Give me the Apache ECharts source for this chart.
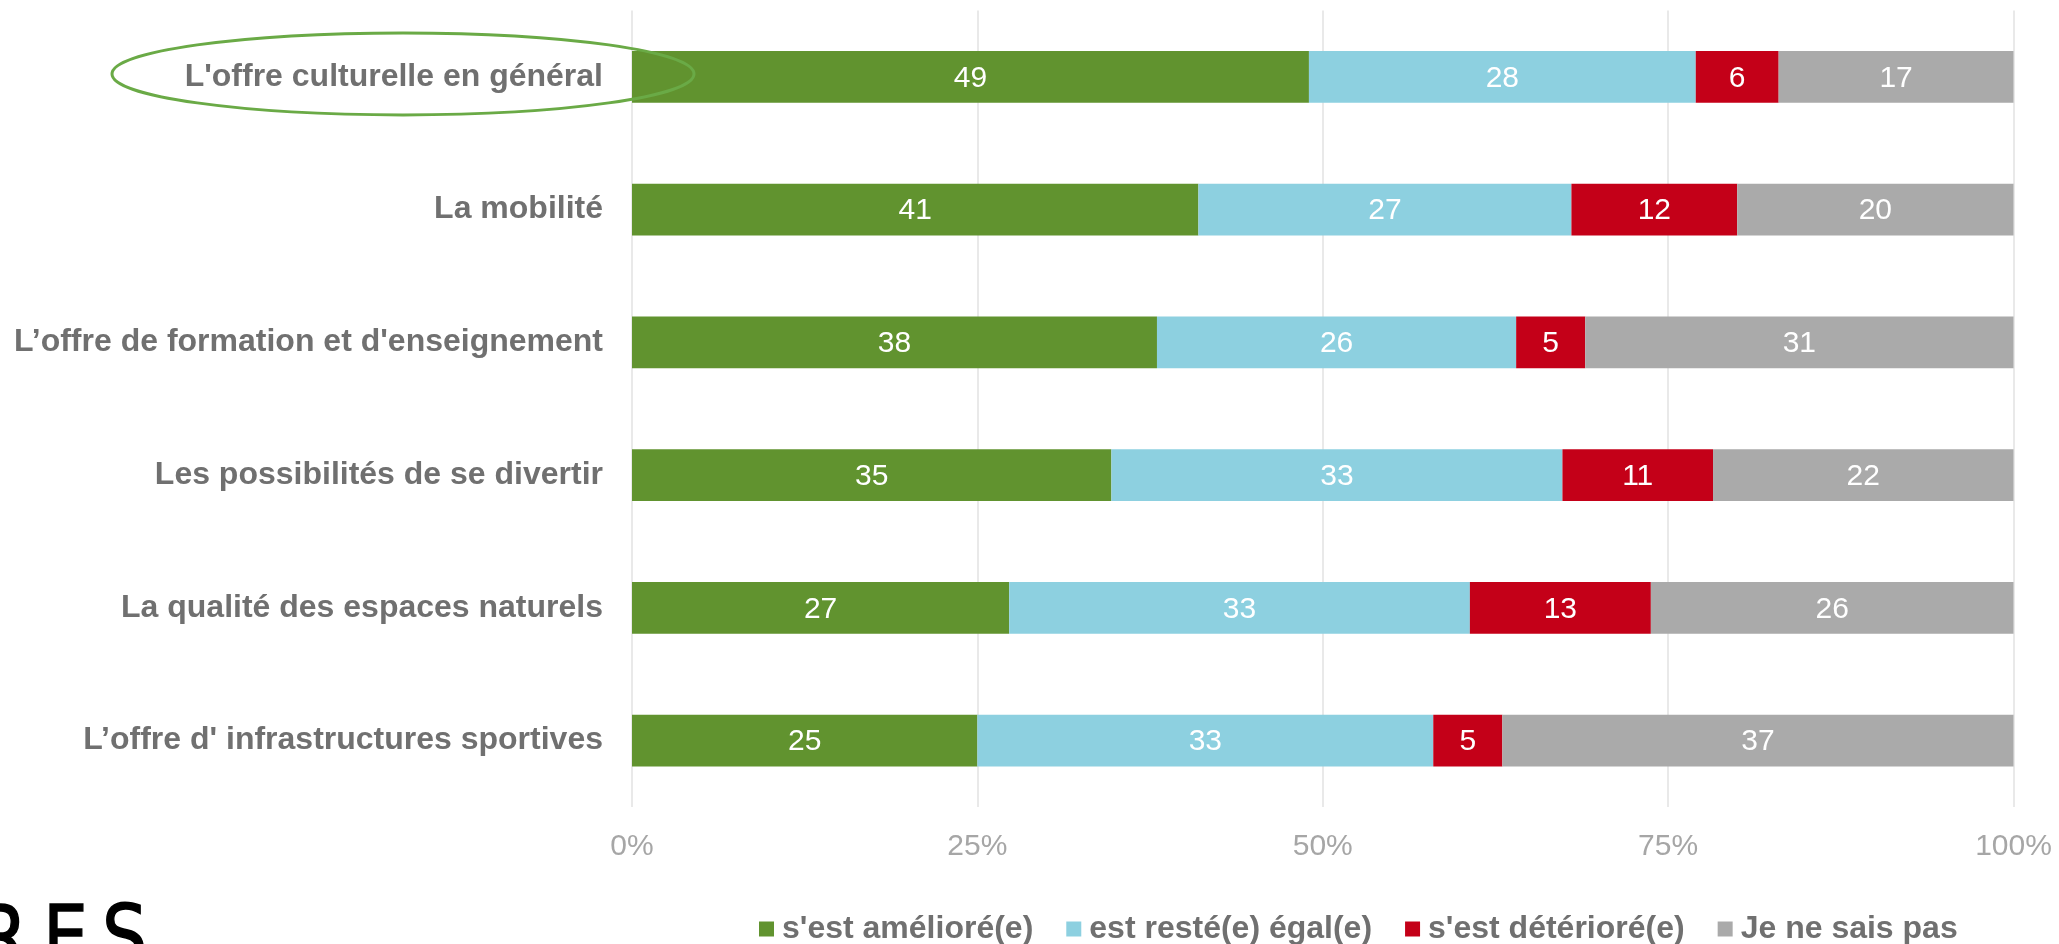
<!DOCTYPE html>
<html><head><meta charset="utf-8">
<script src="https://cdn.jsdelivr.net/npm/echarts@6/dist/echarts.min.js"></script>
<style>html,body{margin:0;padding:0;background:#fff;overflow:hidden}#c{width:2059px;height:944px}</style>
</head><body><div id="c"></div>
<script>
// ---- data ----
const categories = [
  "L'offre culturelle en général",
  "La mobilité",
  "L’offre de formation et d'enseignement",
  "Les possibilités de se divertir",
  "La qualité des espaces naturels",
  "L’offre d' infrastructures sportives"
];
const seriesNames = ["s'est amélioré(e)", "est resté(e) égal(e)", "s'est détérioré(e)", "Je ne sais pas"];
const ameliore  = [49.0, 41.0, 38.0, 34.7, 27.3, 25.0];
const egal      = [28.0, 27.0, 26.0, 32.65, 33.35, 33.0];
const deteriore = [6.0, 12.0, 5.0, 10.9, 13.1, 5.0];
const nsp       = [17.0, 20.0, 31.0, 21.75, 26.25, 37.0];
const xTickValues = [0, 25, 50, 75, 100];
const tickSuffix = "%";
const highlightedCategory = categories[0];
const logoLetters = ["R", "E", "S"];

// ---- styles ----
const colors = ["#61932f", "#8dd0e0", "#c40018", "#aaaaaa"];
const FONT = "Liberation Sans, Arial, sans-serif";
const LOGO_FONT = '85px "DejaVu Sans", sans-serif';

const chart = echarts.init(document.getElementById('c'), null, {renderer: 'canvas'});
const seriesData = [ameliore, egal, deteriore, nsp];

const option = {
  animation: false,
  backgroundColor: '#ffffff',
  grid: {left: 632, right: 45.5, top: 10.5, bottom: 137, containLabel: false},
  legend: {
    data: seriesNames,
    left: 754, top: 908,
    itemWidth: 15, itemHeight: 15, itemGap: 33,
    icon: 'rect',
    textStyle: {fontFamily: FONT, fontSize: 32, fontWeight: 'bold', color: '#707070', padding: [0, 0, 0, 3]},
    selectedMode: false
  },
  xAxis: {
    type: 'value', min: xTickValues[0], max: xTickValues[xTickValues.length - 1],
    interval: xTickValues[1] - xTickValues[0],
    axisLine: {show: false}, axisTick: {show: false},
    splitLine: {show: true, lineStyle: {color: '#e2e2e2', width: 1.5}},
    axisLabel: {formatter: v => v + tickSuffix, fontFamily: FONT, fontSize: 30, color: '#a6a6a6', margin: 25}
  },
  yAxis: {
    type: 'category', data: categories, inverse: true,
    axisLine: {show: false}, axisTick: {show: false}, splitLine: {show: false},
    axisLabel: {fontFamily: FONT, fontSize: 32, fontWeight: 'bold', color: '#707070', margin: 29}
  },
  series: seriesNames.map((name, i) => ({
    name, type: 'bar', stack: 'total', data: seriesData[i],
    barWidth: '39%',
    itemStyle: {color: colors[i]},
    label: {show: true, position: 'inside', offset: [0, 1.5], color: '#ffffff', fontFamily: FONT, fontSize: 30,
      formatter: p => Math.round(p.value)}
  }))
};
chart.setOption(option);

// annotation: ellipse around highlighted category label, partial logo at bottom-left
const p0 = chart.convertToPixel({gridIndex: 0}, [0, highlightedCategory]);
const logoStyle = t => ({text: t, font: LOGO_FONT, fill: '#000', stroke: '#000', lineWidth: 1.5});
chart.setOption({
  graphic: [
    {type: 'ellipse', z: 100, shape: {cx: p0[0] - 229, cy: p0[1] - 3, rx: 291, ry: 41},
     style: {fill: null, stroke: '#6aaa46', lineWidth: 3}},
    {type: 'text', x: -22, y: 901, scaleX: 0.84, style: logoStyle(logoLetters[0])},
    {type: 'text', x: 43, y: 901, scaleX: 0.84, style: logoStyle(logoLetters[1])},
    {type: 'text', x: 102, y: 901, scaleX: 0.84, style: logoStyle(logoLetters[2])}
  ]
});
</script>
</body></html>
